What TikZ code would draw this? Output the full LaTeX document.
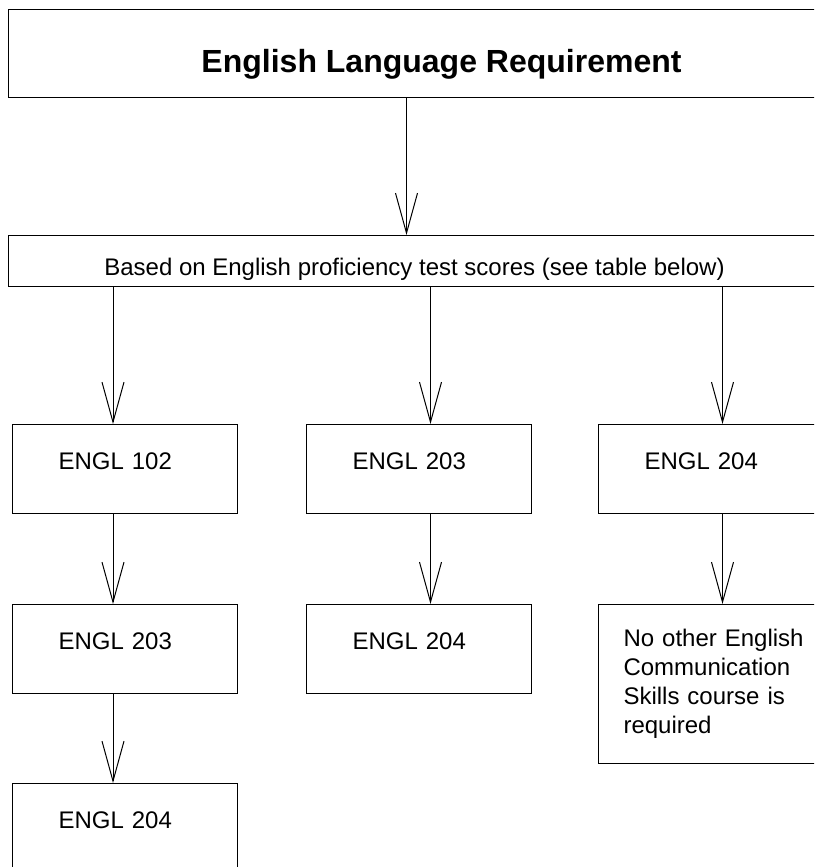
\documentclass[tikz,border=0pt]{standalone}
\usepackage{fontspec}
\setmainfont{Liberation Sans}
\usetikzlibrary{positioning,arrows.meta}
\tikzset{
  box/.style={draw, line width=0.5pt, font=\fontsize{12}{14.5}\selectfont},
  course/.style={box, minimum width=112.5pt, minimum height=44.5pt,
    text width=66.5pt, inner xsep=23pt, align=left, text depth=8pt},
  note/.style={box, minimum width=125pt, minimum height=79.5pt,
    text width=100pt, inner xsep=12.5pt, align=left},
  arr/.style={-{Straight Barb[length=20pt,width=11pt]}, line width=0.5pt}
}

\begin{document}
\begin{tikzpicture}[x=0.5pt, y=-0.5pt]
        \clip (0,0) rectangle (814,867);

        \node[box, anchor=north west, minimum width=433pt, minimum height=44pt,
              font=\bfseries\fontsize{16}{19}\selectfont, text height=18.5pt, text depth=0pt]
              (title) at (8,9) {English Language Requirement};
        \node[box, below=68.5pt of title.south west, anchor=north west, minimum width=406pt,
              minimum height=25.5pt, text height=14pt, text depth=0pt]
              (based) {Based on English proficiency test scores (see table below)};

        \node[course, below=68.5pt of based.south west, anchor=north west, xshift=2pt]
                                       (e102)  {ENGL 102};
        \node[course, right=34pt of e102]   (e203)  {ENGL 203};
        \node[course, right=33pt of e203]   (e204)  {ENGL 204};
        \node[course, below=45pt of e102]   (e203b) {ENGL 203};
        \node[course, below=45pt of e203]   (e204b) {ENGL 204};
        \node[note,   below=45pt of e204.south west, anchor=north west]
                                       (none)  {No other English\\Communication\\Skills course is\\required};
        \node[course, below=44.5pt of e203b] (e204c) {ENGL 204};

        \draw[arr] ([xshift=-17.5pt]title.south) -- ([xshift=-17.5pt]title.south |- based.north);
        \foreach \b/\s in {e102/-6pt, e203/5.75pt, e204/5.75pt}
          \draw[arr] ([xshift=\s]\b.north |- based.south) -- ([xshift=\s]\b.north);
        \foreach \a/\b/\s in {e102/e203b/-6pt, e203/e204b/5.75pt, e203b/e204c/-6pt}
          \draw[arr] ([xshift=\s]\a.south) -- ([xshift=\s]\b.north);
        \draw[arr] ([xshift=5.75pt]e204.south) -- ([xshift=5.75pt]e204.south |- none.north);
\end{tikzpicture}
\end{document}
